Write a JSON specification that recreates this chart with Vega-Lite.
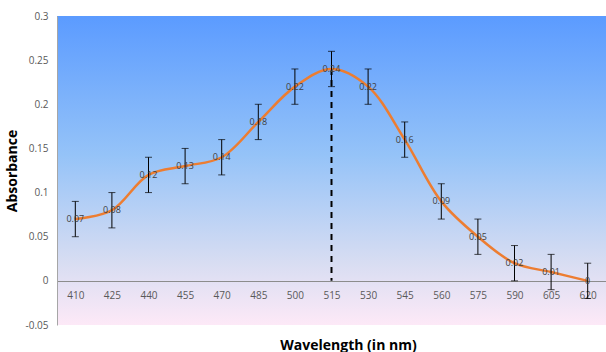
{
  "$schema": "https://vega.github.io/schema/vega-lite/v6.json",
  "width": 549,
  "height": 309,
  "autosize": "none",
  "padding": {"left": 57, "top": 16, "right": 0, "bottom": 27},
  "background": "white",
  "config": {
    "font": "Open Sans",
    "view": {
      "stroke": null,
      "fill": {"gradient": "linear", "x1": 0, "y1": 0, "x2": 0, "y2": 1,
        "stops": [
          {"offset": 0, "color": "#5B9BFF"},
          {"offset": 0.45, "color": "#95C3F8"},
          {"offset": 0.8, "color": "#D8DDF2"},
          {"offset": 1, "color": "#FDE9F7"}
        ]}
    }
  },
  "data": {
    "values": [
      {"wl": 410, "v": 0.07, "lo": 0.05, "hi": 0.09},
      {"wl": 425, "v": 0.08, "lo": 0.06, "hi": 0.10},
      {"wl": 440, "v": 0.12, "lo": 0.10, "hi": 0.14},
      {"wl": 455, "v": 0.13, "lo": 0.11, "hi": 0.15},
      {"wl": 470, "v": 0.14, "lo": 0.12, "hi": 0.16},
      {"wl": 485, "v": 0.18, "lo": 0.16, "hi": 0.20},
      {"wl": 500, "v": 0.22, "lo": 0.20, "hi": 0.24},
      {"wl": 515, "v": 0.24, "lo": 0.22, "hi": 0.26},
      {"wl": 530, "v": 0.22, "lo": 0.20, "hi": 0.24},
      {"wl": 545, "v": 0.16, "lo": 0.14, "hi": 0.18},
      {"wl": 560, "v": 0.09, "lo": 0.07, "hi": 0.11},
      {"wl": 575, "v": 0.05, "lo": 0.03, "hi": 0.07},
      {"wl": 590, "v": 0.02, "lo": 0.00, "hi": 0.04},
      {"wl": 605, "v": 0.01, "lo": -0.01, "hi": 0.03},
      {"wl": 620, "v": 0.00, "lo": -0.02, "hi": 0.02}
    ]
  },
  "encoding": {
    "x": {
      "field": "wl", "type": "ordinal",
      "scale": {"type": "point", "padding": 0.5},
      "axis": {
        "title": "Wavelength (in nm)",
        "titleFontSize": 14, "titleFontWeight": "bold", "titleColor": "#000000",
        "titleBaseline": "alphabetic", "titleY": 68, "titleX": 291,
        "offset": -44,
        "labelAngle": 0, "labelFontSize": 10, "labelColor": "#595959", "labelPadding": 9,
        "ticks": false, "domainColor": "#8C8C8C", "grid": false
      }
    }
  },
  "layer": [
    {
      "transform": [{"filter": "datum.wl == 515"}],
      "mark": {"type": "rule", "color": "#000000", "strokeWidth": 2, "strokeDash": [6, 5]},
      "encoding": {
        "y": {"field": "v", "type": "quantitative"},
        "y2": {"datum": 0}
      }
    },
    {
      "mark": {"type": "line", "color": "#ED7D31", "strokeWidth": 2.5, "interpolate": "catmull-rom"},
      "encoding": {
        "y": {
          "field": "v", "type": "quantitative",
          "scale": {"domain": [-0.05, 0.3], "nice": false, "zero": false},
          "axis": {
            "title": "Absorbance",
            "titleFontSize": 14, "titleFontWeight": "bold", "titleColor": "#000000",
            "titlePadding": 6,
            "values": [-0.05, 0, 0.05, 0.1, 0.15, 0.2, 0.25, 0.3],
            "labelExpr": "'' + datum.value",
            "labelFontSize": 10, "labelColor": "#595959", "labelPadding": 9,
            "ticks": false, "grid": false, "domainColor": "#A6A6A6"
          }
        }
      }
    },
    {
      "mark": {"type": "rule", "color": "#000000", "strokeWidth": 1},
      "encoding": {
        "y": {"field": "lo", "type": "quantitative"},
        "y2": {"field": "hi"}
      }
    },
    {
      "mark": {"type": "tick", "color": "#000000", "thickness": 1, "size": 7},
      "encoding": {"y": {"field": "lo", "type": "quantitative"}}
    },
    {
      "mark": {"type": "tick", "color": "#000000", "thickness": 1, "size": 7},
      "encoding": {"y": {"field": "hi", "type": "quantitative"}}
    },
    {
      "mark": {"type": "text", "fontSize": 9, "color": "#404040", "baseline": "middle", "align": "center"},
      "encoding": {
        "y": {"field": "v", "type": "quantitative"},
        "text": {"field": "v", "type": "quantitative"}
      }
    }
  ]
}
